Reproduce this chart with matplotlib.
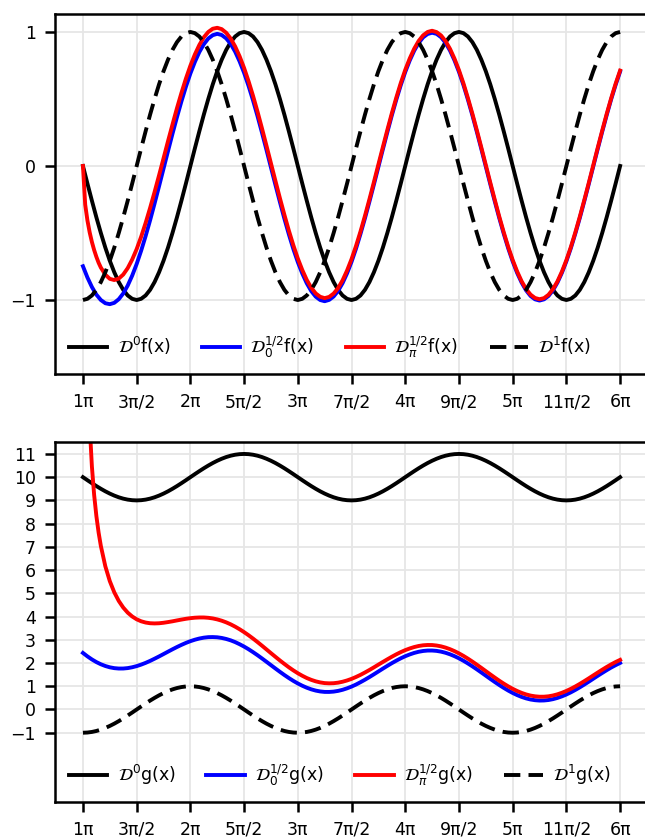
import matplotlib
matplotlib.use("Agg")
import matplotlib.pyplot as plt
import numpy as np

# ── Data ──
# sample positions in units of pi/24 (x = pi .. 6pi)
x_steps = list(range(24, 145))
# the pi-based half derivative needs a finer grid just after x = pi (units of pi/48 past pi)
red_steps = [0, 1, 2, 3, 4, 5, 6, 7, 8] + list(range(10, 241, 2))
red_g_steps = red_steps[1:]

# f(x) panel
f_d0 = [0, -0.131, -0.259, -0.383, -0.5, -0.609, -0.707, -0.793, -0.866, -0.924, -0.966, -0.991,
        -1.0, -0.991, -0.966, -0.924, -0.866, -0.793, -0.707, -0.609, -0.5, -0.383, -0.259, -0.131,
        0, 0.131, 0.259, 0.383, 0.5, 0.609, 0.707, 0.793, 0.866, 0.924, 0.966, 0.991,
        1.0, 0.991, 0.966, 0.924, 0.866, 0.793, 0.707, 0.609, 0.5, 0.383, 0.259, 0.131,
        0, -0.131, -0.259, -0.383, -0.5, -0.609, -0.707, -0.793, -0.866, -0.924, -0.966, -0.991,
        -1.0, -0.991, -0.966, -0.924, -0.866, -0.793, -0.707, -0.609, -0.5, -0.383, -0.259, -0.131,
        0, 0.131, 0.259, 0.383, 0.5, 0.609, 0.707, 0.793, 0.866, 0.924, 0.966, 0.991,
        1.0, 0.991, 0.966, 0.924, 0.866, 0.793, 0.707, 0.609, 0.5, 0.383, 0.259, 0.131,
        0, -0.131, -0.259, -0.383, -0.5, -0.609, -0.707, -0.793, -0.866, -0.924, -0.966, -0.991,
        -1.0, -0.991, -0.966, -0.924, -0.866, -0.793, -0.707, -0.609, -0.5, -0.383, -0.259, -0.131, 0]
f_d1 = [-1.0, -0.991, -0.966, -0.924, -0.866, -0.793, -0.707, -0.609, -0.5, -0.383, -0.259, -0.131,
        0, 0.131, 0.259, 0.383, 0.5, 0.609, 0.707, 0.793, 0.866, 0.924, 0.966, 0.991,
        1.0, 0.991, 0.966, 0.924, 0.866, 0.793, 0.707, 0.609, 0.5, 0.383, 0.259, 0.131,
        0, -0.131, -0.259, -0.383, -0.5, -0.609, -0.707, -0.793, -0.866, -0.924, -0.966, -0.991,
        -1.0, -0.991, -0.966, -0.924, -0.866, -0.793, -0.707, -0.609, -0.5, -0.383, -0.259, -0.131,
        0, 0.131, 0.259, 0.383, 0.5, 0.609, 0.707, 0.793, 0.866, 0.924, 0.966, 0.991,
        1.0, 0.991, 0.966, 0.924, 0.866, 0.793, 0.707, 0.609, 0.5, 0.383, 0.259, 0.131,
        0, -0.131, -0.259, -0.383, -0.5, -0.609, -0.707, -0.793, -0.866, -0.924, -0.966, -0.991,
        -1.0, -0.991, -0.966, -0.924, -0.866, -0.793, -0.707, -0.609, -0.5, -0.383, -0.259, -0.131,
        0, 0.131, 0.259, 0.383, 0.5, 0.609, 0.707, 0.793, 0.866, 0.924, 0.966, 0.991, 1.0]
f_half0 = [-0.748, -0.832, -0.903, -0.960, -1.000, -1.024, -1.031, -1.021, -0.994, -0.951, -0.892, -0.818,
           -0.731, -0.632, -0.523, -0.405, -0.280, -0.151, -0.020, 0.111, 0.240, 0.364, 0.482, 0.591,
           0.690, 0.776, 0.850, 0.908, 0.951, 0.976, 0.986, 0.977, 0.952, 0.911, 0.853, 0.780,
           0.695, 0.597, 0.489, 0.372, 0.248, 0.120, -0.011, -0.141, -0.269, -0.393, -0.510, -0.619,
           -0.717, -0.802, -0.875, -0.933, -0.975, -1.000, -1.009, -0.999, -0.974, -0.932, -0.874, -0.801,
           -0.715, -0.617, -0.507, -0.390, -0.266, -0.138, -0.007, 0.124, 0.252, 0.377, 0.494, 0.603,
           0.701, 0.787, 0.860, 0.918, 0.960, 0.985, 0.994, 0.986, 0.961, 0.919, 0.861, 0.788,
           0.702, 0.604, 0.495, 0.378, 0.254, 0.126, -0.005, -0.136, -0.264, -0.388, -0.505, -0.614,
           -0.712, -0.798, -0.870, -0.928, -0.970, -0.995, -1.004, -0.995, -0.970, -0.928, -0.870, -0.797,
           -0.711, -0.613, -0.504, -0.387, -0.263, -0.135, -0.004, 0.127, 0.255, 0.379, 0.497, 0.605, 0.704]
f_halfpi = [0, -0.288, -0.406, -0.495, -0.567, -0.627, -0.678, -0.722, -0.758,
            -0.811, -0.842, -0.851, -0.840, -0.810, -0.762, -0.698, -0.620,
            -0.528, -0.425, -0.313, -0.194, -0.070, 0.057, 0.185, 0.309, 0.431, 0.545, 0.652,
            0.748, 0.832, 0.903, 0.960, 1.000, 1.024, 1.031, 1.021, 0.994, 0.951, 0.892, 0.818,
            0.731, 0.632, 0.523, 0.405, 0.280, 0.151, 0.020, -0.111, -0.240, -0.364, -0.482, -0.591,
            -0.690, -0.776, -0.850, -0.908, -0.951, -0.976, -0.986, -0.977, -0.952, -0.911, -0.853, -0.780,
            -0.695, -0.597, -0.489, -0.372, -0.248, -0.120, 0.011, 0.141, 0.269, 0.393, 0.510, 0.619,
            0.717, 0.802, 0.875, 0.933, 0.975, 1.000, 1.009, 0.999, 0.974, 0.932, 0.874, 0.801,
            0.715, 0.617, 0.507, 0.390, 0.266, 0.138, 0.007, -0.124, -0.252, -0.377, -0.494, -0.603,
            -0.701, -0.787, -0.860, -0.918, -0.960, -0.985, -0.994, -0.986, -0.961, -0.919, -0.861, -0.788,
            -0.702, -0.604, -0.495, -0.378, -0.254, -0.126, 0.005, 0.136, 0.264, 0.388, 0.505, 0.614, 0.712]

# g(x) panel
g_d0 = [10.0, 9.869, 9.741, 9.617, 9.5, 9.391, 9.293, 9.207, 9.134, 9.076, 9.034, 9.009,
        9.0, 9.009, 9.034, 9.076, 9.134, 9.207, 9.293, 9.391, 9.5, 9.617, 9.741, 9.869,
        10.0, 10.131, 10.259, 10.383, 10.5, 10.609, 10.707, 10.793, 10.866, 10.924, 10.966, 10.991,
        11.0, 10.991, 10.966, 10.924, 10.866, 10.793, 10.707, 10.609, 10.5, 10.383, 10.259, 10.131,
        10.0, 9.869, 9.741, 9.617, 9.5, 9.391, 9.293, 9.207, 9.134, 9.076, 9.034, 9.009,
        9.0, 9.009, 9.034, 9.076, 9.134, 9.207, 9.293, 9.391, 9.5, 9.617, 9.741, 9.869,
        10.0, 10.131, 10.259, 10.383, 10.5, 10.609, 10.707, 10.793, 10.866, 10.924, 10.966, 10.991,
        11.0, 10.991, 10.966, 10.924, 10.866, 10.793, 10.707, 10.609, 10.5, 10.383, 10.259, 10.131,
        10.0, 9.869, 9.741, 9.617, 9.5, 9.391, 9.293, 9.207, 9.134, 9.076, 9.034, 9.009,
        9.0, 9.009, 9.034, 9.076, 9.134, 9.207, 9.293, 9.391, 9.5, 9.617, 9.741, 9.869, 10.0]
g_d1 = list(f_d1)  # the first derivative of the constant part is zero
g_half0 = [2.435, 2.287, 2.155, 2.041, 1.947, 1.872, 1.816, 1.780, 1.763, 1.764, 1.782, 1.818,
           1.868, 1.932, 2.007, 2.092, 2.186, 2.284, 2.386, 2.489, 2.591, 2.689, 2.781, 2.866,
           2.941, 3.004, 3.055, 3.092, 3.114, 3.118, 3.108, 3.080, 3.036, 2.977, 2.901, 2.810,
           2.708, 2.594, 2.469, 2.337, 2.197, 2.054, 1.909, 1.764, 1.622, 1.484, 1.354, 1.232,
           1.121, 1.023, 0.938, 0.868, 0.814, 0.777, 0.757, 0.756, 0.770, 0.801, 0.848, 0.911,
           0.986, 1.074, 1.175, 1.282, 1.396, 1.515, 1.637, 1.759, 1.878, 1.994, 2.102, 2.203,
           2.293, 2.370, 2.435, 2.485, 2.519, 2.537, 2.538, 2.523, 2.490, 2.441, 2.376, 2.296,
           2.203, 2.098, 1.982, 1.858, 1.728, 1.593, 1.456, 1.318, 1.184, 1.054, 0.931, 0.816,
           0.712, 0.620, 0.542, 0.478, 0.430, 0.400, 0.385, 0.389, 0.408, 0.445, 0.498, 0.566,
           0.646, 0.739, 0.843, 0.955, 1.074, 1.197, 1.324, 1.450, 1.573, 1.692, 1.806, 1.909, 2.004]
g_halfpi = [21.765, 15.188, 12.237, 10.460, 9.235, 8.325, 7.613, 7.039,
            6.163, 5.524, 5.043, 4.673, 4.388, 4.169, 4.004, 3.882,
            3.797, 3.743, 3.713, 3.705, 3.712, 3.733, 3.763, 3.796, 3.834, 3.870, 3.904,
            3.931, 3.951, 3.961, 3.961, 3.947, 3.920, 3.878, 3.822, 3.751, 3.666, 3.566, 3.454,
            3.330, 3.196, 3.053, 2.902, 2.746, 2.586, 2.426, 2.267, 2.111, 1.961, 1.817, 1.684,
            1.561, 1.452, 1.355, 1.276, 1.212, 1.166, 1.136, 1.126, 1.132, 1.155, 1.195, 1.250,
            1.318, 1.400, 1.491, 1.593, 1.701, 1.814, 1.931, 2.046, 2.160, 2.270, 2.374, 2.470,
            2.555, 2.627, 2.688, 2.734, 2.764, 2.777, 2.775, 2.754, 2.718, 2.665, 2.596, 2.513,
            2.416, 2.308, 2.189, 2.062, 1.928, 1.791, 1.651, 1.511, 1.374, 1.240, 1.114, 0.997,
            0.891, 0.796, 0.715, 0.649, 0.599, 0.567, 0.550, 0.551, 0.568, 0.603, 0.654, 0.720,
            0.799, 0.890, 0.992, 1.102, 1.220, 1.341, 1.466, 1.590, 1.712, 1.830, 1.941, 2.044, 2.136]

tick_halfpi = list(range(2, 13))
tick_labels = ["1π", "3π/2", "2π", "5π/2", "3π", "7π/2", "4π", "9π/2", "5π", "11π/2", "6π"]

# ── Style ──
plt.rcParams.update({
    "font.family": "DejaVu Sans",
    "mathtext.fontset": "dejavusans",
    "axes.linewidth": 1.8,
})
LW = 2.8
DASH = (4.2, 2.1)

x = np.array(x_steps) * np.pi / 24
x_red = np.pi + np.array(red_steps) * np.pi / 48
x_red_g = np.pi + np.array(red_g_steps) * np.pi / 48

fig = plt.figure(figsize=(6.45, 8.38), dpi=100)
ax1 = fig.add_axes([0.0853, 0.5537, 0.9194, 0.4296])
ax2 = fig.add_axes([0.0853, 0.0430, 0.9194, 0.4300])


def style_axes(ax, ylim, yticks):
    ax.set_xlim(0.74 * np.pi, 6.26 * np.pi)
    ax.set_ylim(*ylim)
    ax.set_xticks(np.array(tick_halfpi) * np.pi / 2)
    ax.set_xticklabels(tick_labels)
    ax.set_yticks(yticks)
    ax.tick_params(axis="both", direction="out", length=7.2, width=1.8,
                   labelsize=12.5, pad=6.5)
    ax.grid(True, color="#e6e6e6", linewidth=1.3)
    ax.set_axisbelow(True)
    ax.spines["right"].set_visible(False)


def add_legend(ax):
    ax.legend(loc="lower left", ncol=4, frameon=False, fontsize=12.5,
              handlelength=2.2, columnspacing=1.8, handletextpad=0.6,
              borderaxespad=0.4)


# top panel: f(x)
ax1.plot(x, f_d0, color="black", lw=LW, label=r"$\mathcal{D}^0$f(x)")
ax1.plot(x, f_half0, color="blue", lw=LW, label=r"$\mathcal{D}_0^{1/2}$f(x)")
ax1.plot(x_red, f_halfpi, color="red", lw=LW, label=r"$\mathcal{D}_\pi^{1/2}$f(x)")
ax1.plot(x, f_d1, color="black", lw=LW, ls=(0, DASH), label=r"$\mathcal{D}^1$f(x)")
style_axes(ax1, (-1.552, 1.134), [-1, 0, 1])
add_legend(ax1)

# bottom panel: g(x)
ax2.plot(x, g_d0, color="black", lw=LW, label=r"$\mathcal{D}^0$g(x)")
ax2.plot(x, g_half0, color="blue", lw=LW, label=r"$\mathcal{D}_0^{1/2}$g(x)")
ax2.plot(x_red_g, g_halfpi, color="red", lw=LW, label=r"$\mathcal{D}_\pi^{1/2}$g(x)")
ax2.plot(x, g_d1, color="black", lw=LW, ls=(0, DASH), label=r"$\mathcal{D}^1$g(x)")
style_axes(ax2, (-3.98, 11.53), list(range(-1, 12)))
add_legend(ax2)

fig.savefig("out.png", dpi=100, facecolor="white")
